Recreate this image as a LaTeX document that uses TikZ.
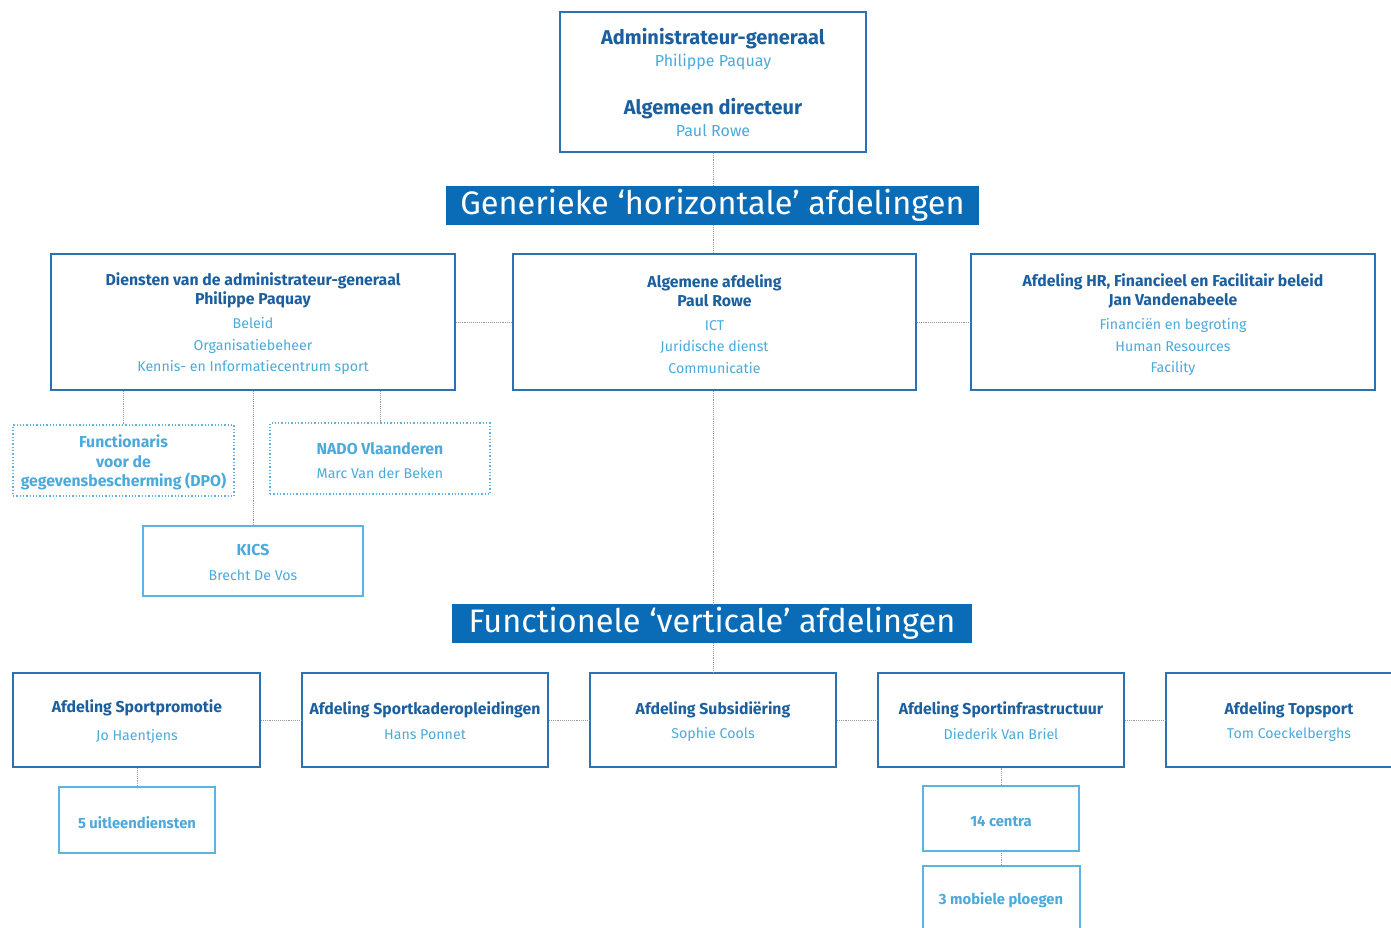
\documentclass[tikz,border=0pt]{standalone}
\usepackage{fontspec}
\setmainfont{Fira Sans}
\definecolor{dblue}{HTML}{2A72B5}
\definecolor{bann}{HTML}{0A6CB6}
\definecolor{lblue}{HTML}{4BAADB}
\definecolor{lbord}{HTML}{5DB4E0}
\definecolor{ttl}{HTML}{1B5F9F}
\definecolor{conn}{HTML}{9A9A9A}
\newcommand\bx[6]{\node[#6, minimum width={#4-#2}, minimum height={#5-#3}] (#1) at ({(#2+#4)/2},{(#3+#5)/2}) {};}
\tikzset{
  mainbox/.style={draw=dblue, line width=1.8pt, rectangle, inner sep=0pt},
  lightbox/.style={draw=lbord, line width=1.8pt, rectangle, inner sep=0pt},
  dotbox/.style={draw=lbord, line width=1.3pt, dotted, rectangle, inner sep=0pt},
  banner/.style={fill=bann, text=white, rectangle, inner sep=0pt, font=\fontsize{32.5}{36}\selectfont},
  conn/.style={draw=conn, line width=0.9pt, densely dotted},
  txt/.style={inner sep=0pt, yshift=-1.5pt, align=center},
  tt/.style={txt, font=\fontsize{20}{24}\selectfont\bfseries, text=ttl},
  tn/.style={txt, font=\fontsize{16}{19}\selectfont, text=lblue},
  ht/.style={txt, font=\fontsize{15.8}{19}\selectfont\bfseries, text=ttl},
  hn/.style={txt, font=\fontsize{14.2}{21.5}\selectfont, text=lblue},
  lt/.style={txt, font=\fontsize{15.8}{19.5}\selectfont\bfseries, text=lblue},
  ls/.style={txt, font=\fontsize{14.8}{18}\selectfont\bfseries, text=lblue},
}
\begin{document}
\begin{tikzpicture}[x=1pt,y=-1pt]
\useasboundingbox (0,0) rectangle (1391,928);
\clip (0,0) rectangle (1391,928);
\fill[white] (0,0) rectangle (1391,928);
% boxes
\bx{top}{560}{12}{866}{152}{mainbox}
\node[banner, minimum width=533, minimum height=39] (ban1) at (712.5,205.5) {Generieke ‘horizontale’ afdelingen};
\bx{dien}{51}{254}{455}{390}{mainbox}
\bx{alg}{513}{254}{916}{390}{mainbox}
\bx{hr}{971}{254}{1375}{390}{mainbox}
\bx{dpo}{13}{425}{234}{496}{dotbox}
\bx{nado}{270}{423}{490}{494}{dotbox}
\bx{kics}{143}{526}{363}{596}{lightbox}
\node[banner, minimum width=520, minimum height=39] (ban2) at (712,623.5) {Functionele ‘verticale’ afdelingen};
\bx{spp}{13}{673}{260}{767}{mainbox}
\bx{skd}{302}{673}{548}{767}{mainbox}
\bx{sub}{590}{673}{836}{767}{mainbox}
\bx{inf}{878}{673}{1124}{767}{mainbox}
\bx{top2}{1166}{673}{1412}{767}{mainbox}
\bx{uit}{59}{787}{215}{853}{lightbox}
\bx{cen}{923}{786}{1079}{851}{lightbox}
\bx{mob}{923}{866}{1080}{940}{lightbox}
% connectors
\draw[conn] (top.south) -- (top.south |- ban1.north);
\draw[conn] (top.south |- ban1.south) -- (top.south |- alg.north);
\draw[conn] (dien.east) -- (alg.west);
\draw[conn] (alg.east) -- (hr.west);
\draw[conn] (top.south |- alg.south) -- (top.south |- ban2.north);
\draw[conn] (top.south |- ban2.south) -- (top.south |- sub.north);
\draw[conn] (dpo.north) -- (dpo.north |- dien.south);
\draw[conn] (kics.north) -- (kics.north |- dien.south);
\draw[conn] (nado.north) -- (nado.north |- dien.south);
\draw[conn] (spp.east) -- (skd.west);
\draw[conn] (skd.east) -- (sub.west);
\draw[conn] (sub.east) -- (inf.west);
\draw[conn] (inf.east) -- (top2.west);
\draw[conn] (uit.north) -- (uit.north |- spp.south);
\draw[conn] (cen.north) -- (cen.north |- inf.south);
\draw[conn] (mob.north) -- (mob.north |- cen.south);
% texts
\node[tt] (t1) at (713,37) {Administrateur-generaal};
\node[tn] (t2) at (713,60) {Philippe Paquay};
\node[tt] (t3) at (713,107) {Algemeen directeur};
\node[tn] (t4) at (713,129) {Paul Rowe};
\node[ht] (d1) at (253,288.5) {Diensten van de administrateur-generaal\\Philippe Paquay};
\node[hn] (d2) at (253,344.5) {Beleid\\Organisatiebeheer\\Kennis- en Informatiecentrum sport};
\node[ht] (a1) at (714.5,289.5) {Algemene afdeling\\Paul Rowe};
\node[hn] (a2) at (714.5,345.5) {ICT\\Juridische dienst\\Communicatie};
\node[ht] (h1) at (1173,289.5) {Afdeling HR, Financieel en Facilitair beleid\\Jan Vandenabeele};
\node[hn] (h2) at (1173,345.5) {Financiën en begroting\\Human Resources\\Facility};
\node[lt] (f1) at (123.5,461) {Functionaris\\voor de\\gegevensbescherming (DPO)};
\node[lt] (n1) at (380,447) {NADO Vlaanderen};
\node[hn] (n2) at (380,472) {Marc Van der Beken};
\node[lt] (k1) at (253,549) {KICS};
\node[hn] (k2) at (253,574) {Brecht De Vos};
\node[ht] (s1) at (137,706) {Afdeling Sportpromotie};
\node[hn] (s2) at (137,735) {Jo Haentjens};
\node[ht] (s3) at (425,708) {Afdeling Sportkaderopleidingen};
\node[hn] (s4) at (425,733) {Hans Ponnet};
\node[ht] (s5) at (713,708) {Afdeling Subsidiëring};
\node[hn] (s6) at (713,733) {Sophie Cools};
\node[ht] (s7) at (1001,708) {Afdeling Sportinfrastructuur};
\node[hn] (s8) at (1001,733) {Diederik Van Briel};
\node[ht] (s9) at (1289,708) {Afdeling Topsport};
\node[hn] (s10) at (1289,733) {Tom Coeckelberghs};
\node[ls] (u1) at (137,821) {5 uitleendiensten};
\node[ls] (c1) at (1001,820) {14 centra};
\node[ls] (m1) at (1001,899) {3 mobiele ploegen};
\end{tikzpicture}
\end{document}
